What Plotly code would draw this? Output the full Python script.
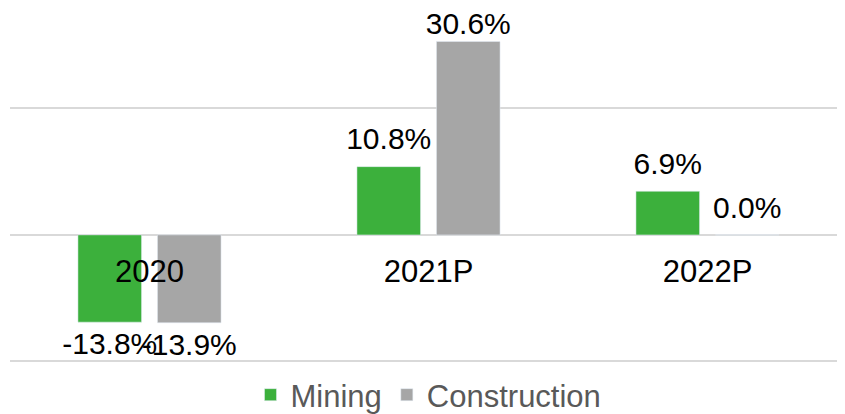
import plotly.graph_objects as go

categories = ["2020", "2021P", "2022P"]
mining = [-13.8, 10.8, 6.9]
construction = [-13.9, 30.6, 0.0]

y_min, y_max = -20.9, 35.9

fig = go.Figure()
for name, vals, color in [("Mining", mining, "#3cb03c"),
                          ("Construction", construction, "#a6a6a6")]:
    fig.add_trace(go.Bar(x=categories, y=vals, name=name, offsetgroup=name,
                         marker_color=color))
    # value labels, pushed a bit further from the bar ends than plotly's own;
    # labels near the top edge are kept closer so they stay inside the chart
    fig.add_trace(go.Scatter(x=categories, y=vals, offsetgroup=name,
                             mode="markers+text", showlegend=False,
                             text=[f"{v:.1f}%" for v in vals],
                             textposition=["top center" if v >= 0 else "bottom center"
                                           for v in vals],
                             textfont=dict(size=30, color="#000000"),
                             marker=dict(size=[14 if v < y_max - 8 else 0 for v in vals],
                                         color="rgba(0,0,0,0)",
                                         line=dict(width=0, color="rgba(0,0,0,0)")),
                             hoverinfo="skip", cliponaxis=False))

fig.update_layout(
    width=845, height=414,
    margin=dict(l=2, r=6, t=0, b=49),
    paper_bgcolor="white", plot_bgcolor="white",
    font=dict(family="Liberation Sans, Arial, sans-serif"),
    barmode="group", bargap=0.43, bargroupgap=0.2,
    scattermode="group", scattergap=0.43,
    showlegend=True,
    legend=dict(orientation="h", x=0.5, xanchor="center", y=-0.078,
                yanchor="middle", font=dict(size=31, color="#595959"),
                bgcolor="rgba(0,0,0,0)"),
)
# category labels sit on the zero line, like Excel
fig.update_xaxes(type="category", anchor="free",
                 position=(0 - y_min) / (y_max - y_min),
                 showline=False, showgrid=False, ticks="",
                 ticklabelstandoff=15,
                 tickfont=dict(size=31, color="#000000"))
fig.update_yaxes(range=[y_min, y_max], dtick=20, showticklabels=False,
                 gridcolor="#d9d9d9", gridwidth=1.5,
                 zeroline=True, zerolinecolor="#d9d9d9", zerolinewidth=1.5)

fig.write_html("out.html")
